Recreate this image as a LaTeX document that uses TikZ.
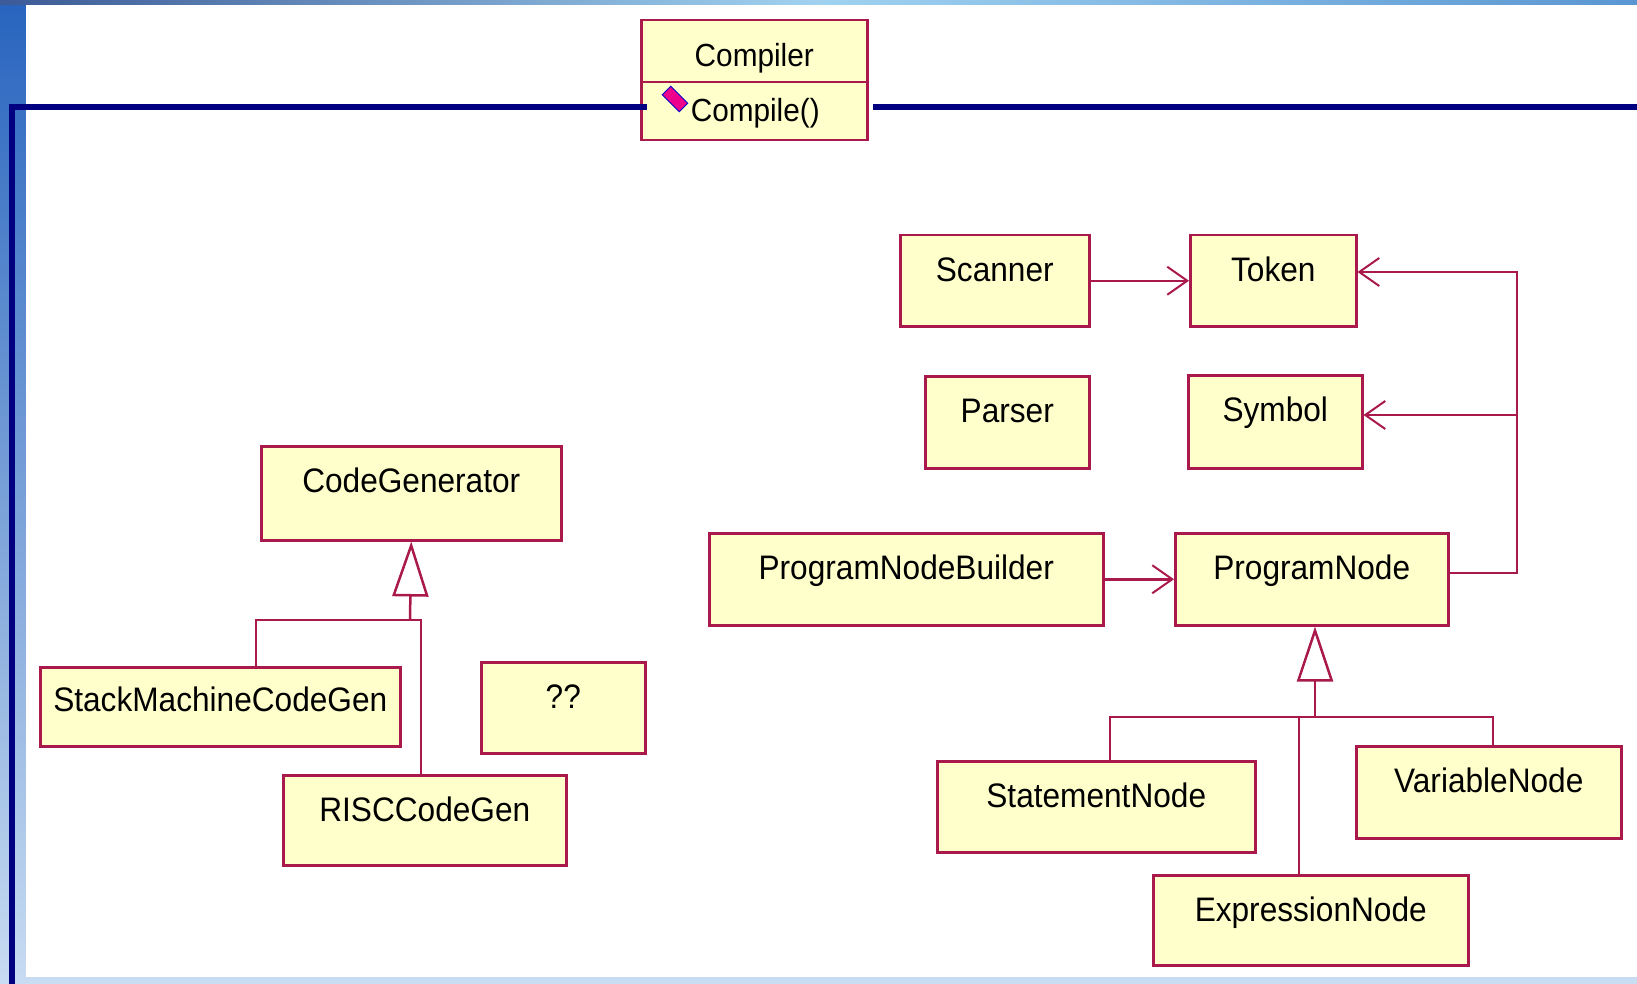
\documentclass[tikz,border=0pt]{standalone}
\usepackage{fontspec}
\newfontfamily\clsf[FakeStretch=0.93]{Liberation Sans}
\usetikzlibrary{arrows.meta}
\definecolor{crim}{RGB}{170,25,75}
\definecolor{cream}{RGB}{255,255,204}
\definecolor{navyl}{RGB}{0,0,128}
\definecolor{bgtop}{RGB}{40,100,190}
\definecolor{bgbot}{RGB}{200,220,242}
\definecolor{stripA}{RGB}{60,90,150}
\definecolor{stripB}{RGB}{160,210,240}
\definecolor{stripC}{RGB}{90,150,210}
\begin{document}
\begin{tikzpicture}[x=1pt,y=-1pt,
  cls/.style={draw=crim, fill=cream, line width=2.5pt, inner xsep=0pt, inner ysep=0pt,
    text height=46pt, anchor=north west, font=\clsf\fontsize{34}{40}\selectfont},
  cmp/.style={cls, font=\clsf\fontsize{32}{38}\selectfont},
  assoc/.style={draw=crim, line width=2.5pt, -{Straight Barb[length=20pt,width=28pt,line width=2pt]}},
  link/.style={draw=crim, line width=2.5pt},
  gen/.style={draw=crim, line width=2.5pt, -{Triangle[fill=white,length=55pt,width=36pt,line width=2.5pt]}},
  navyline/.style={draw=navyl, line width=6pt}
]
\useasboundingbox (0,0) rectangle (1637,984);
% background
\shade[top color=bgtop, bottom color=bgbot] (0,0) rectangle (1637,984);
\shade[left color=stripA, right color=stripC, middle color=stripB] (0,0) rectangle (1637,5);
\fill[white] (26,5) rectangle (1637,977);

% compiler class
\node[cmp, minimum width=226pt, text depth=16pt] (comp) at (640,19) {Compiler};
\node[cmp, minimum width=226pt, text height=39pt, text depth=19pt] (compop) at (640,81) {\hspace*{2pt}Compile()};
\node[draw=blue!80!black, fill=magenta, line width=1pt, minimum width=24pt, minimum height=12pt,
  inner sep=0pt, rotate=-45] (icon) at (675,99) {};

% classes
\node[cls, minimum width=189pt, text depth=45pt] (scanner) at (899,234) {Scanner};
\node[cls, minimum width=166pt, text depth=45pt] (token) at (1189,234) {Token};
\node[cls, minimum width=164pt, text depth=46pt] (parser) at (924,375) {Parser};
\node[cls, minimum width=174pt, text depth=47pt] (symbol) at (1187,374) {Symbol};
\node[cls, minimum width=394pt, text depth=46pt] (pnb) at (708,532) {ProgramNodeBuilder};
\node[cls, minimum width=273pt, text depth=46pt] (pn) at (1174,532) {ProgramNode};
\node[cls, minimum width=300pt, text depth=48pt] (cg) at (260,445) {CodeGenerator};
\node[cls, minimum width=360pt, text height=44pt, text depth=35pt] (smcg) at (39,666) {StackMachineCodeGen};
\node[cls, minimum width=164pt, text depth=45pt] (q) at (480,661) {??};
\node[cls, minimum width=283pt, text depth=44pt] (risc) at (282,774) {RISCCodeGen};
\node[cls, minimum width=318pt, text depth=45pt] (stmt) at (936,760) {StatementNode};
\node[cls, minimum width=265pt, text depth=46pt] (var) at (1355,745) {VariableNode};
\node[cls, minimum width=315pt, text depth=44pt] (expr) at (1152,874) {ExpressionNode};

% associations
\draw[assoc] (scanner.east) -- (token.west);
\draw[assoc] (pnb.east) -- (pn.west);
\coordinate (rA) at (1517,573);
\coordinate (rT) at (1517,272);
\coordinate (rS) at (1517,415);
\draw[assoc] (pn.east |- rA) -- (rA) -- (rT) -- (token.east |- rT);
\draw[assoc] (rS) -- (symbol.east |- rS);

% generalization: code generators
\coordinate (j1) at (410,620);
\coordinate (j1a) at (256,620);
\coordinate (j1b) at (421,620);
\draw[gen] (j1) -- (cg.south);
\draw[link] (j1a |- smcg.north) -- (j1a) -- (j1b) -- (j1b |- risc.north);

% generalization: program nodes
\coordinate (j2) at (1315,717);
\coordinate (j2a) at (1110,717);
\coordinate (j2b) at (1299,717);
\coordinate (j2c) at (1493,717);
\draw[gen] (j2) -- (j2 |- pn.south);
\draw[link] (j2a |- stmt.north) -- (j2a) -- (j2c) -- (j2c |- var.north);
\draw[link] (j2b) -- (j2b |- expr.north);

% navy frame lines
\coordinate (n0) at (11.5,984);
\coordinate (n1) at (11.5,107);
\coordinate (n2) at (647,107);
\coordinate (n3) at (873,107);
\coordinate (n4) at (1637,107);
\draw[navyline] (n0) -- (n1) -- (n2);
\draw[navyline] (n3) -- (n4);
\end{tikzpicture}
\end{document}
